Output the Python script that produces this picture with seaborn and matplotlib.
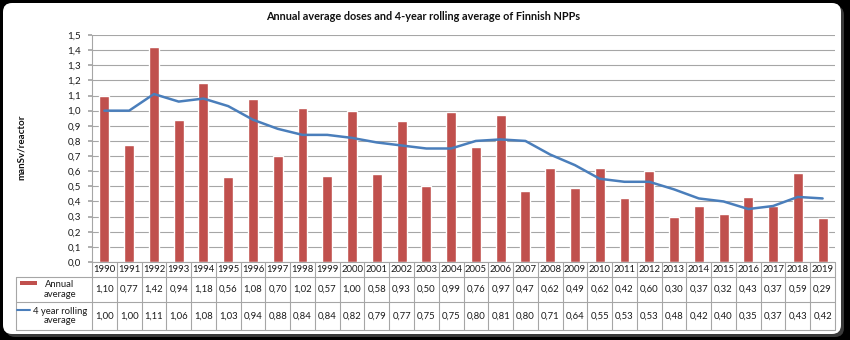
import numpy as np
import pandas as pd
import seaborn as sns
import matplotlib.pyplot as plt
from matplotlib.patches import FancyBboxPatch, Rectangle
from matplotlib.lines import Line2D
from matplotlib.transforms import IdentityTransform

# ---- data ----
years = [1990, 1991, 1992, 1993, 1994, 1995, 1996, 1997, 1998, 1999,
         2000, 2001, 2002, 2003, 2004, 2005, 2006, 2007, 2008, 2009,
         2010, 2011, 2012, 2013, 2014, 2015, 2016, 2017, 2018, 2019]
annual = [1.10, 0.77, 1.42, 0.94, 1.18, 0.56, 1.08, 0.70, 1.02, 0.57,
          1.00, 0.58, 0.93, 0.50, 0.99, 0.76, 0.97, 0.47, 0.62, 0.49,
          0.62, 0.42, 0.60, 0.30, 0.37, 0.32, 0.43, 0.37, 0.59, 0.29]
rolling = [1.00, 1.00, 1.11, 1.06, 1.08, 1.03, 0.94, 0.88, 0.84, 0.84,
           0.82, 0.79, 0.77, 0.75, 0.75, 0.80, 0.81, 0.80, 0.71, 0.64,
           0.55, 0.53, 0.53, 0.48, 0.42, 0.40, 0.35, 0.37, 0.43, 0.42]
ytick_values = [0.0, 0.1, 0.2, 0.3, 0.4, 0.5, 0.6, 0.7, 0.8, 0.9,
                1.0, 1.1, 1.2, 1.3, 1.4, 1.5]
ytick_labels = [f"{v:.1f}".replace('.', ',') for v in ytick_values]
title = "Annual average doses and 4-year rolling average of Finnish NPPs"
ylabel = "manSv/reactor"
row_labels = ["Annual\naverage", "4 year rolling\naverage"]

BAR_COLOR = '#C0504D'
LINE_COLOR = '#4A7EBB'
GRID = '#A6A6A6'
TXT = '#1a1a1a'

sns.set_theme(style='white')
plt.rcParams['font.family'] = ['Lato', 'DejaVu Sans']

W, H = 850, 340
fig = plt.figure(figsize=(W / 100, H / 100), dpi=100, facecolor='black')


def fx(x):
    return x / W


def fy(y):
    return 1 - y / H


# rounded white panel with a subtle shadow (pixel coordinates)
shadow = FancyBboxPatch((6, H - 337), 838, 331,
                        boxstyle='round,pad=0,rounding_size=9',
                        transform=IdentityTransform(), facecolor='#3a3a3a',
                        edgecolor='none', zorder=-3)
panel = FancyBboxPatch((3, H - 334), 838, 331,
                       boxstyle='round,pad=0,rounding_size=9',
                       transform=IdentityTransform(), facecolor='white',
                       edgecolor='none', zorder=-2)
fig.patches.extend([shadow, panel])

# ---- plot area ----
x0, x1, ytop, ybot = 92, 835, 35, 262
ax = fig.add_axes([fx(x0), fy(ybot), fx(x1) - fx(x0), fy(ytop) - fy(ybot)])
ax.set_facecolor('none')
ax.set_zorder(1)
n = len(years)
df = pd.DataFrame({'pos': list(range(n)), 'year': years,
                   'annual': annual, 'rolling': rolling})
sns.barplot(data=df, x='pos', y='annual', color=BAR_COLOR, saturation=1,
            width=0.4, errorbar=None, ax=ax, zorder=2)
sns.lineplot(data=df, x='pos', y='rolling', color=LINE_COLOR, linewidth=1.8,
             ax=ax, zorder=3)
ax.set_xlim(-0.5, n - 0.5)
ax.set_ylim(0, 1.5)
ax.set_yticks(ytick_values)
ax.set_yticklabels(ytick_labels, fontsize=7, color=TXT)
ax.set_xticks([])
ax.set_xlabel('')
ax.set_ylabel('')
ax.yaxis.grid(True, color=GRID, linewidth=0.8)
ax.set_axisbelow(True)
for s in ['top', 'right', 'bottom']:
    ax.spines[s].set_visible(False)
ax.spines['left'].set_color(GRID)
ax.spines['left'].set_linewidth(0.8)
ax.tick_params(axis='y', length=3, color=GRID, pad=5, left=True)

fig.text(fx(423), fy(17), title, ha='center', va='center',
         fontsize=7.8, fontweight='bold', color='#111111')
fig.text(fx(21), fy(147), ylabel, ha='center', va='center', rotation=90,
         fontsize=7, fontweight='bold', color='#111111')

# ---- data table ----
r0, r1, r2, r3 = 262, 277, 302, 330
lx = 16
colw = (x1 - x0) / n


def hline(xa, xb, y):
    fig.add_artist(Line2D([fx(xa), fx(xb)], [fy(y), fy(y)],
                          transform=fig.transFigure, color=GRID, lw=0.8))


def vline(x, ya, yb):
    fig.add_artist(Line2D([fx(x), fx(x)], [fy(ya), fy(yb)],
                          transform=fig.transFigure, color=GRID, lw=0.8))


hline(x0, x1, r0)
hline(lx, x1, r1)
hline(lx, x1, r2)
hline(lx, x1, r3)
vline(lx, r1, r3)
for i in range(n + 1):
    vline(x0 + i * colw, r0, r3)

fs = 6.8
for i in range(n):
    cx = x0 + (i + 0.5) * colw
    fig.text(fx(cx), fy((r0 + r1) / 2), str(years[i]), ha='center',
             va='center', fontsize=fs, color=TXT)
    fig.text(fx(cx), fy((r1 + r2) / 2), f"{annual[i]:.2f}".replace('.', ','),
             ha='center', va='center', fontsize=fs, color=TXT)
    fig.text(fx(cx), fy((r2 + r3) / 2), f"{rolling[i]:.2f}".replace('.', ','),
             ha='center', va='center', fontsize=fs, color=TXT)

# row labels with legend keys
fig.add_artist(Rectangle((fx(20), fy(285)), fx(37) - fx(20), fy(281) - fy(285),
                         transform=fig.transFigure, facecolor=BAR_COLOR,
                         edgecolor='none'))
fig.text(fx(60), fy((r1 + r2) / 2), row_labels[0], ha='center', va='center',
         fontsize=fs, color=TXT, linespacing=1.1)
fig.add_artist(Line2D([fx(17), fx(30)], [fy(310), fy(310)],
                      transform=fig.transFigure, color=LINE_COLOR, lw=1.5))
fig.text(fx(60), fy((r2 + r3) / 2), row_labels[1], ha='center', va='center',
         fontsize=fs, color=TXT, linespacing=1.1)

fig.savefig('out.png', dpi=100, facecolor=fig.get_facecolor())
